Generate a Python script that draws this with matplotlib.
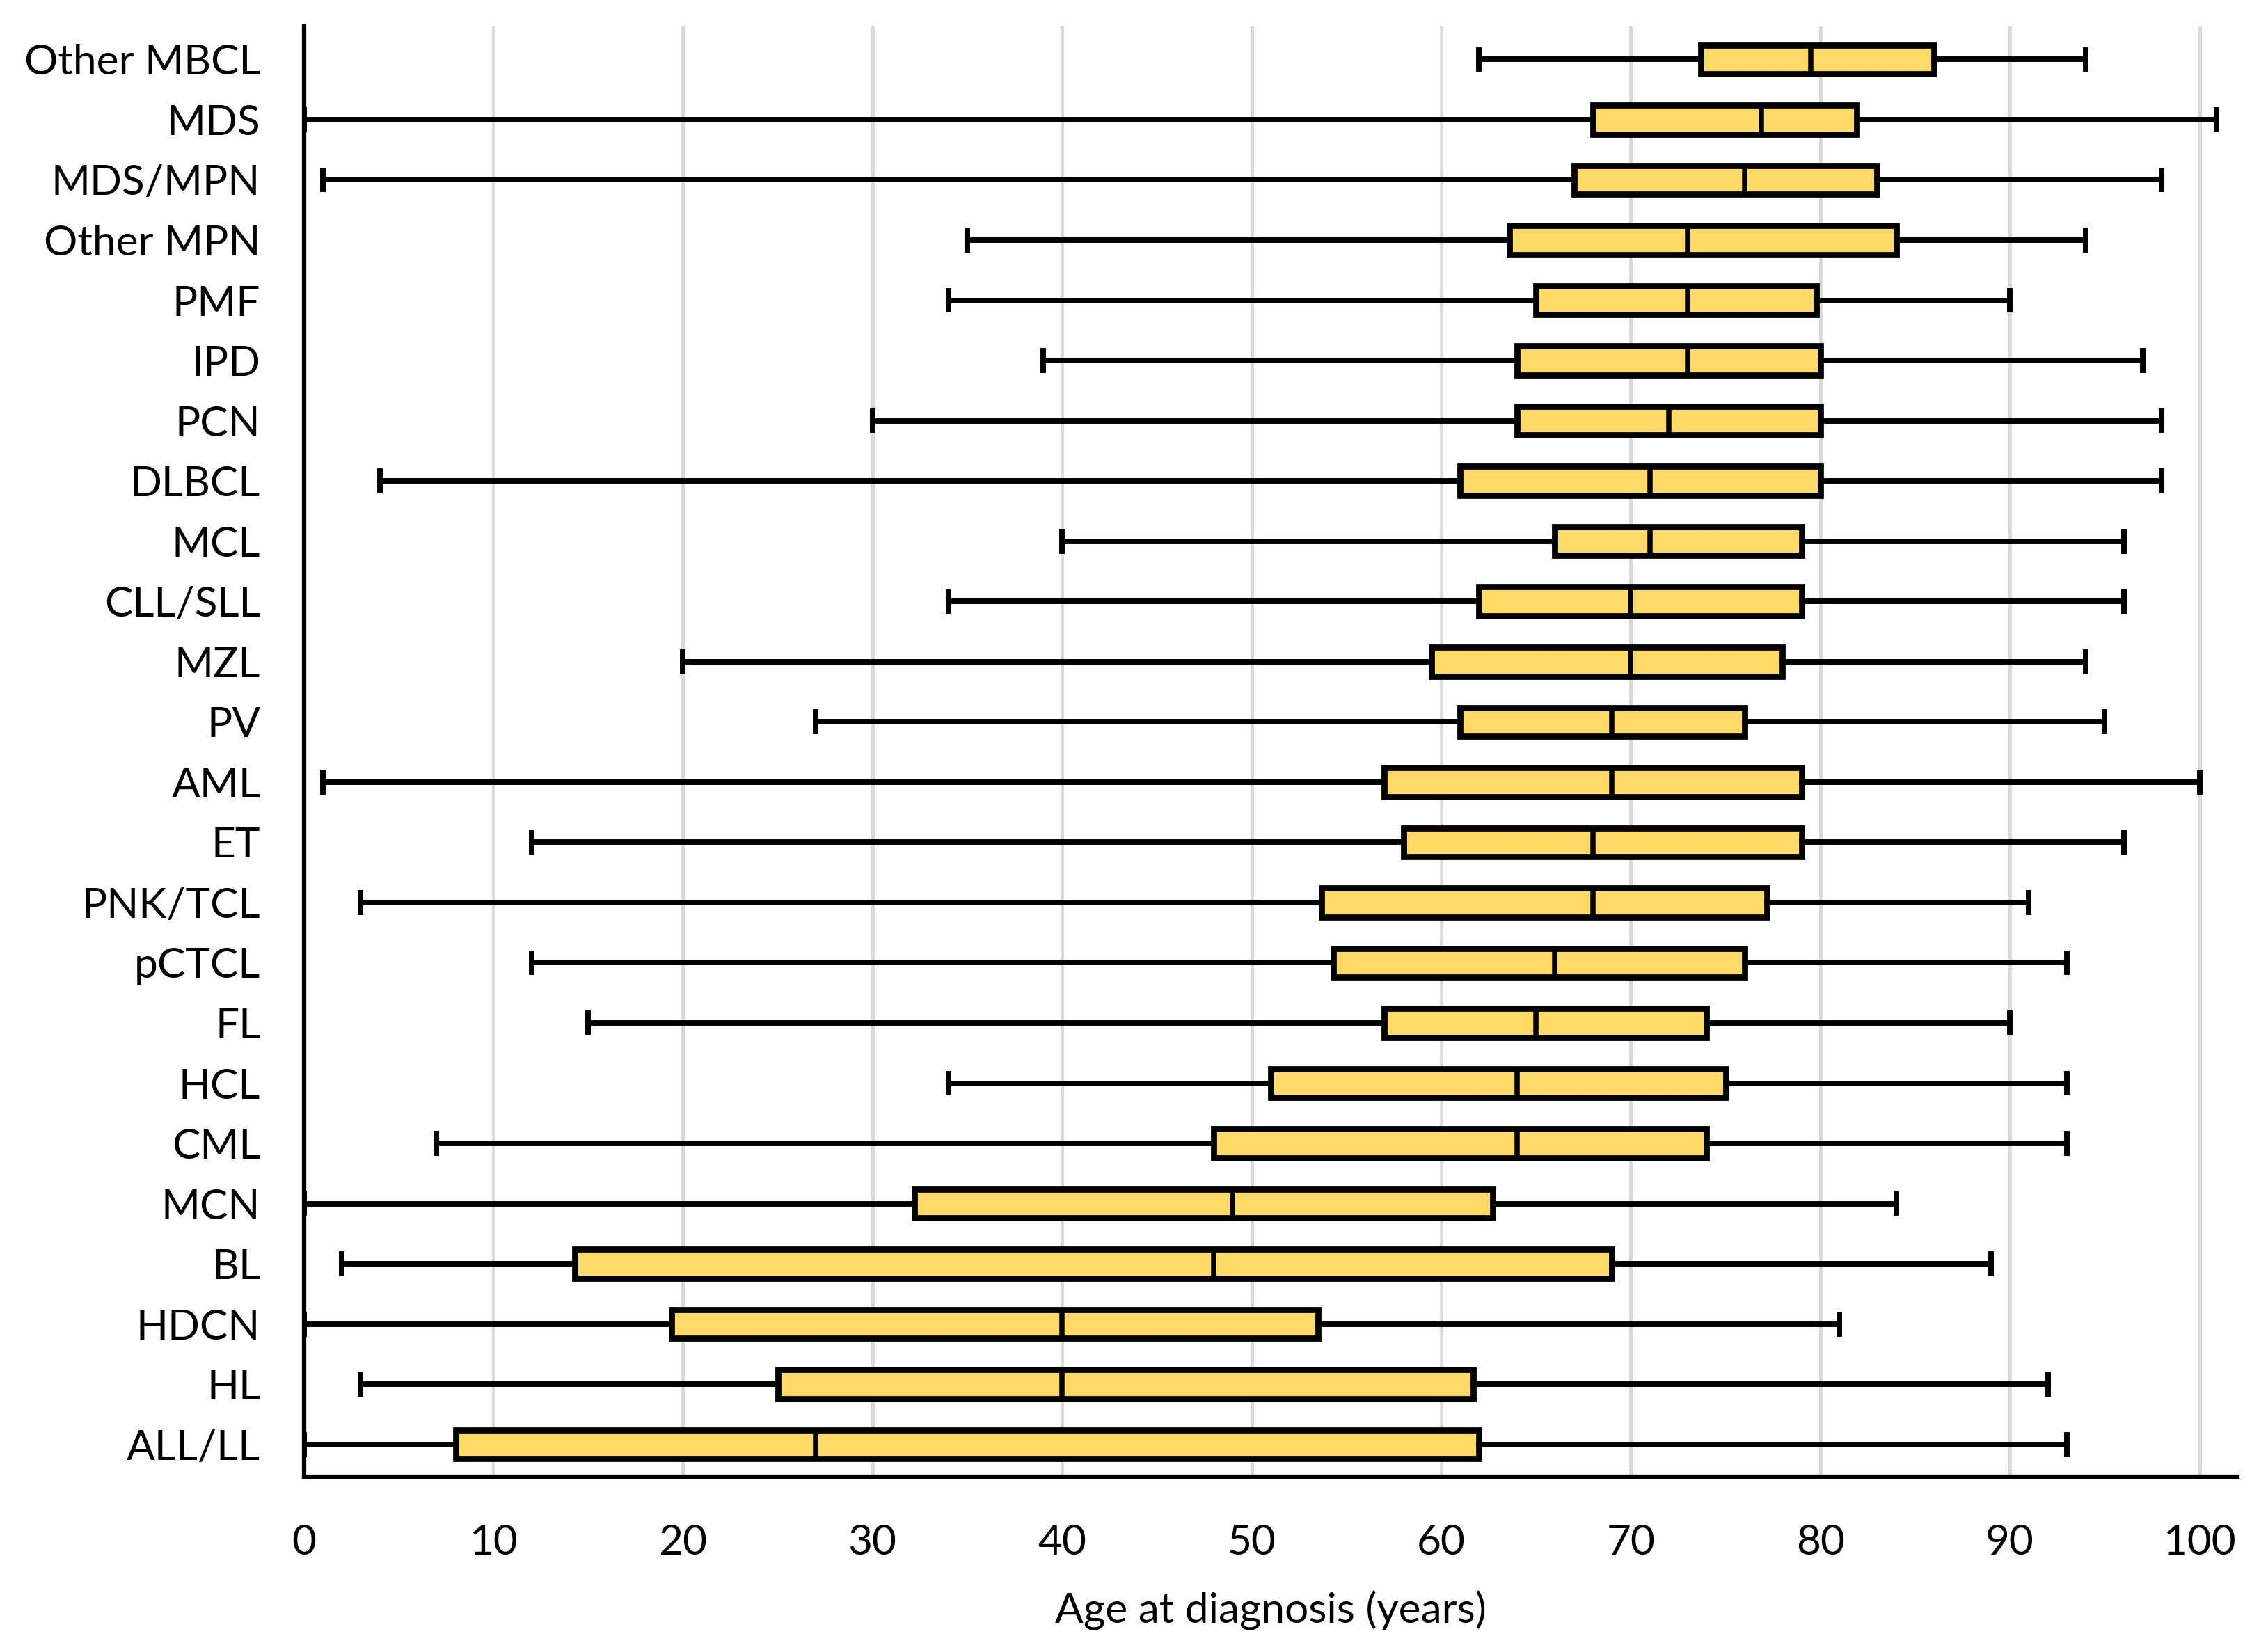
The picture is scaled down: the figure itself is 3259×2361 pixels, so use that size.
import matplotlib
matplotlib.use('Agg')
import matplotlib.pyplot as plt

# Categorias (de cima para baixo) e estatisticas
categories = ['Other MBCL', 'MDS', 'MDS/MPN', 'Other MPN', 'PMF', 'IPD', 'PCN', 'DLBCL',
              'MCL', 'CLL/SLL', 'MZL', 'PV', 'AML', 'ET', 'PNK/TCL', 'pCTCL', 'FL',
              'HCL', 'CML', 'MCN', 'BL', 'HDCN', 'HL', 'ALL/LL']
whisker_low = [62, 0, 1, 35, 34, 39, 30, 4, 40, 34, 20, 27, 1, 12, 3, 12, 15, 34, 7, 0, 2, 0, 3, 0]
q1 = [73.7, 68, 67, 63.6, 65, 64, 64, 61, 66, 62, 59.5, 61, 57, 58, 53.7, 54.3, 57, 51, 48, 32.2, 14.3, 19.4, 25, 8]
median = [79.5, 76.9, 76, 73, 73, 73, 72, 71, 71, 70, 70, 69, 69, 68, 68, 66, 65, 64, 64, 49, 48, 40, 40, 27]
q3 = [86, 81.9, 83, 84, 79.8, 80, 80, 80, 79, 79, 78, 76, 79, 79, 77.2, 76, 74, 75, 74, 62.7, 69, 53.5, 61.7, 62]
whisker_high = [94, 100.9, 98, 94, 90, 97, 98, 98, 96, 96, 94, 95, 100, 96, 91, 93, 90, 93, 93, 84, 89, 81, 92, 93]

plt.rcParams['font.family'] = ['Lato', 'DejaVu Sans']

fig = plt.figure(figsize=(3259 / 300, 2361 / 300), dpi=300)
ax = fig.add_axes([0.134, 0.1014, 0.8525, 0.8826])

n = len(categories)
stats = []
for i in range(n):
    stats.append({'label': categories[i], 'whislo': whisker_low[i], 'q1': q1[i],
                  'med': median[i], 'q3': q3[i], 'whishi': whisker_high[i], 'fliers': []})
positions = list(range(n, 0, -1))

ax.bxp(stats, positions=positions, vert=False, widths=0.48, capwidths=0.32,
       patch_artist=True, showfliers=False,
       boxprops=dict(facecolor='#FFD966', edgecolor='black', linewidth=2.1),
       medianprops=dict(color='black', linewidth=1.8),
       whiskerprops=dict(color='black', linewidth=1.9),
       capprops=dict(color='black', linewidth=1.9))

ax.set_xlim(0, 102)
ax.set_ylim(0.47, n + 0.55)
ax.set_xticks(range(0, 101, 10))
ax.set_yticks(positions)
ax.set_yticklabels(categories)

# Grade vertical
for x in range(10, 101, 10):
    ax.axvline(x, color='#d9d9d9', linewidth=1.2, zorder=0)

ax.spines['top'].set_visible(False)
ax.spines['right'].set_visible(False)
ax.spines['left'].set_linewidth(1.5)
ax.spines['bottom'].set_linewidth(1.5)
ax.tick_params(axis='both', length=0, labelsize=14.5)
ax.tick_params(axis='x', pad=16.5)
ax.tick_params(axis='y', pad=15)

ax.set_xlabel('Age at diagnosis (years)', fontsize=14.5, labelpad=10)

fig.savefig('out.png', dpi=300)
